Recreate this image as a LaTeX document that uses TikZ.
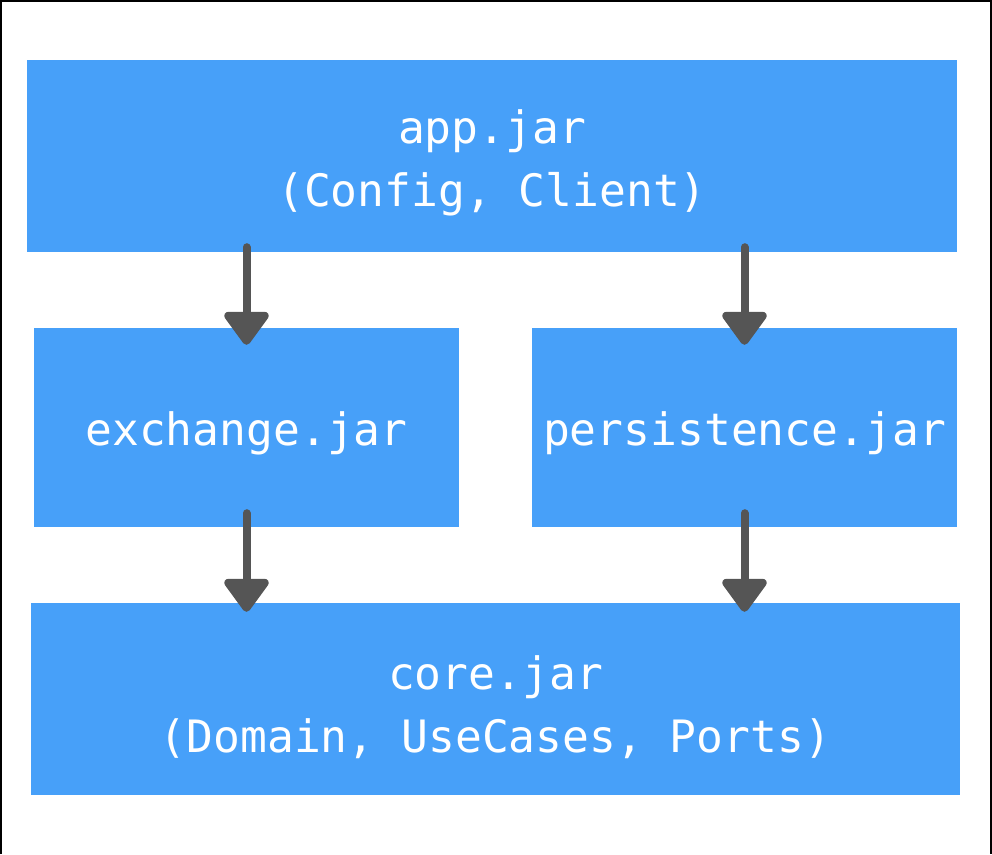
\documentclass[tikz,border=0pt]{standalone}
\usepackage{fontspec}
\setmonofont{DejaVu Sans Mono}
\usetikzlibrary{arrows.meta}
\definecolor{jarblue}{HTML}{47A0F9}
\definecolor{arrgray}{HTML}{555555}

\begin{document}
\begin{tikzpicture}[x=1pt,y=-1pt,
    jar/.style={fill=jarblue,inner sep=0pt},
    jartext/.style={text=white,inner sep=0pt,align=center,
      font=\fontsize{44.6}{63}\selectfont\ttfamily},
    dep/.style={draw=arrgray,line width=8pt,line cap=round,
      -{Triangle[width=50pt,length=36pt,round]}}]
      \useasboundingbox (0,0) rectangle (992,854);
      \draw[line width=2pt] (1,854) -- (1,1) -- (991,1) -- (991,854);
      \path (492,156) node[jar,minimum width=930pt,minimum height=192pt] (app) {};
      \path (246.5,427.5) node[jar,minimum width=425pt,minimum height=199pt] (exch) {};
      \path (744.5,427.5) node[jar,minimum width=425pt,minimum height=199pt] (pers) {};
      \path (495.5,699) node[jar,minimum width=929pt,minimum height=192pt] (core) {};
      \path (app) ++(0,7) node[jartext] (applbl) {app.jar\\(Config, Client)};
      \path (exch) ++(0,6) node[jartext] (exchlbl) {exchange.jar};
      \path (pers) ++(0,6) node[jartext] (perslbl) {persistence.jar};
      \path (core) ++(0,8) node[jartext] (corelbl) {core.jar\\(Domain, UseCases, Ports)};
      \foreach \n in {exch,pers} {
        \draw[dep,shorten <=-5pt,shorten >=-17pt] (\n.north |- app.south) -- (\n.north);
        \draw[dep,shorten <=-14pt,shorten >=-9pt] (\n.south) -- (\n.south |- core.north);
      }
    \end{tikzpicture}
\end{document}
